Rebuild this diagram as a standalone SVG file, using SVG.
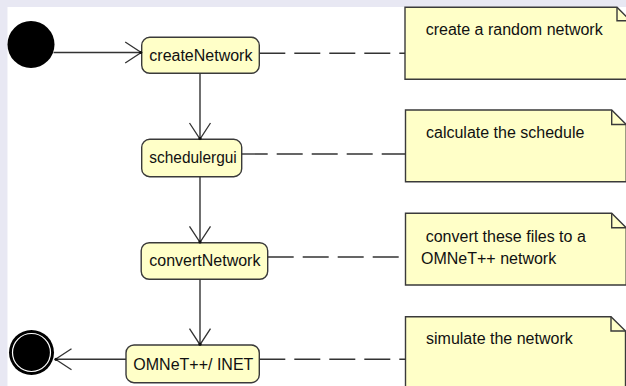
<svg xmlns="http://www.w3.org/2000/svg" width="626" height="386" viewBox="0 0 626 386">
  <style>
    .bg { fill: #e8e8f3; }
    .canvas { fill: #ffffff; }
    .node rect { fill: #ffffc8; stroke: #3a3a3a; stroke-width: 1.4; }
    .note path { fill: #ffffc8; stroke: #3a3a3a; stroke-width: 1.4; stroke-linejoin: miter; }
    .note .fold { fill: none; }
    text { font-family: "Liberation Sans", Arial, sans-serif; font-size: 16px; fill: #111; }
    .flow { stroke: #333; stroke-width: 1.4; fill: none; }
    .dash { stroke: #333; stroke-width: 1.4; fill: none; stroke-dasharray: 26 9; }
  </style>
  <defs>
    <marker id="arrow" markerUnits="userSpaceOnUse" markerWidth="40" markerHeight="40" viewBox="-20 -20 40 40" refX="0" refY="0" orient="auto">
      <path d="M-16,-10.5 L0,0 L-16,10.5" fill="none" stroke="#333" stroke-width="1.3"/>
      <circle cx="-0.5" cy="0" r="1.6" fill="#111"/>
    </marker>
  </defs>

  <rect class="bg" x="0" y="0" width="626" height="386"/>
  <rect class="canvas" x="7.5" y="7" width="618.5" height="379"/>

  <g id="start">
    <circle cx="31" cy="44.5" r="23.5" fill="#000"/>
  </g>

  <g id="end">
    <circle cx="31.5" cy="352.5" r="22.5" fill="#000"/>
    <circle cx="31.5" cy="352.5" r="19" fill="none" stroke="#fff" stroke-width="1.2"/>
  </g>

  <g id="createNetwork" class="node">
    <rect x="141.7" y="37.3" width="117.6" height="36" rx="8" ry="8"/>
    <text x="149.3" y="60.7">createNetwork</text>
  </g>

  <g id="schedulergui" class="node">
    <rect x="141.7" y="139.3" width="100" height="37.4" rx="8" ry="8"/>
    <text x="149.3" y="163.3" textLength="87.5" lengthAdjust="spacingAndGlyphs">schedulergui</text>
  </g>

  <g id="convertNetwork" class="node">
    <rect x="141.2" y="242.7" width="126.5" height="36.6" rx="8" ry="8"/>
    <text x="149.3" y="266">convertNetwork</text>
  </g>

  <g id="omnet" class="node">
    <rect x="126" y="345" width="133.3" height="37.7" rx="8" ry="8"/>
    <text x="133.3" y="370">OMNeT++/ INET</text>
  </g>

  <g id="note1" class="note">
    <path d="M405,7.3 H617 L630.5,20.8 V79.3 H405 Z"/>
    <path class="fold" d="M617,7.3 V20.8 H630.5"/>
    <text x="425.7" y="35">create a random network</text>
  </g>

  <g id="note2" class="note">
    <path d="M405.5,110 H611.7 L626.2,124.5 V181.7 H405.5 Z"/>
    <path class="fold" d="M611.7,110 V124.5 H626.2"/>
    <text x="426" y="138">calculate the schedule</text>
  </g>

  <g id="note3" class="note">
    <path d="M405.5,213.3 H611.7 L626.2,227.7 V285 H405.5 Z"/>
    <path class="fold" d="M611.7,213.3 V227.7 H626.2"/>
    <text x="425.7" y="241.7">convert these files to a</text>
    <text x="421" y="264">OMNeT++ network</text>
  </g>

  <g id="note4" class="note">
    <path d="M405.5,316.7 H611 L625.5,331 V400 H405.5 Z"/>
    <path class="fold" d="M611,316.7 V331 H625.5"/>
    <text x="426" y="344">simulate the network</text>
  </g>

  <g id="connectors">
    <line class="flow" x1="53.5" y1="52.5" x2="141.2" y2="52.5" marker-end="url(#arrow)"/>
    <line class="flow" x1="200" y1="73.3" x2="200" y2="139" marker-end="url(#arrow)"/>
    <line class="flow" x1="200" y1="176.7" x2="200" y2="242.4" marker-end="url(#arrow)"/>
    <line class="flow" x1="200" y1="279.3" x2="200" y2="344.7" marker-end="url(#arrow)"/>
    <line class="flow" x1="126" y1="359.3" x2="55.5" y2="359.3" marker-end="url(#arrow)"/>

    <line class="dash" x1="259.3" y1="53.3" x2="405" y2="53.3"/>
    <line class="dash" x1="241.7" y1="154" x2="405.5" y2="154"/>
    <line class="dash" x1="267.7" y1="257" x2="405.5" y2="257"/>
    <line class="dash" x1="259.3" y1="359.3" x2="405.5" y2="359.3"/>
  </g>
</svg>
